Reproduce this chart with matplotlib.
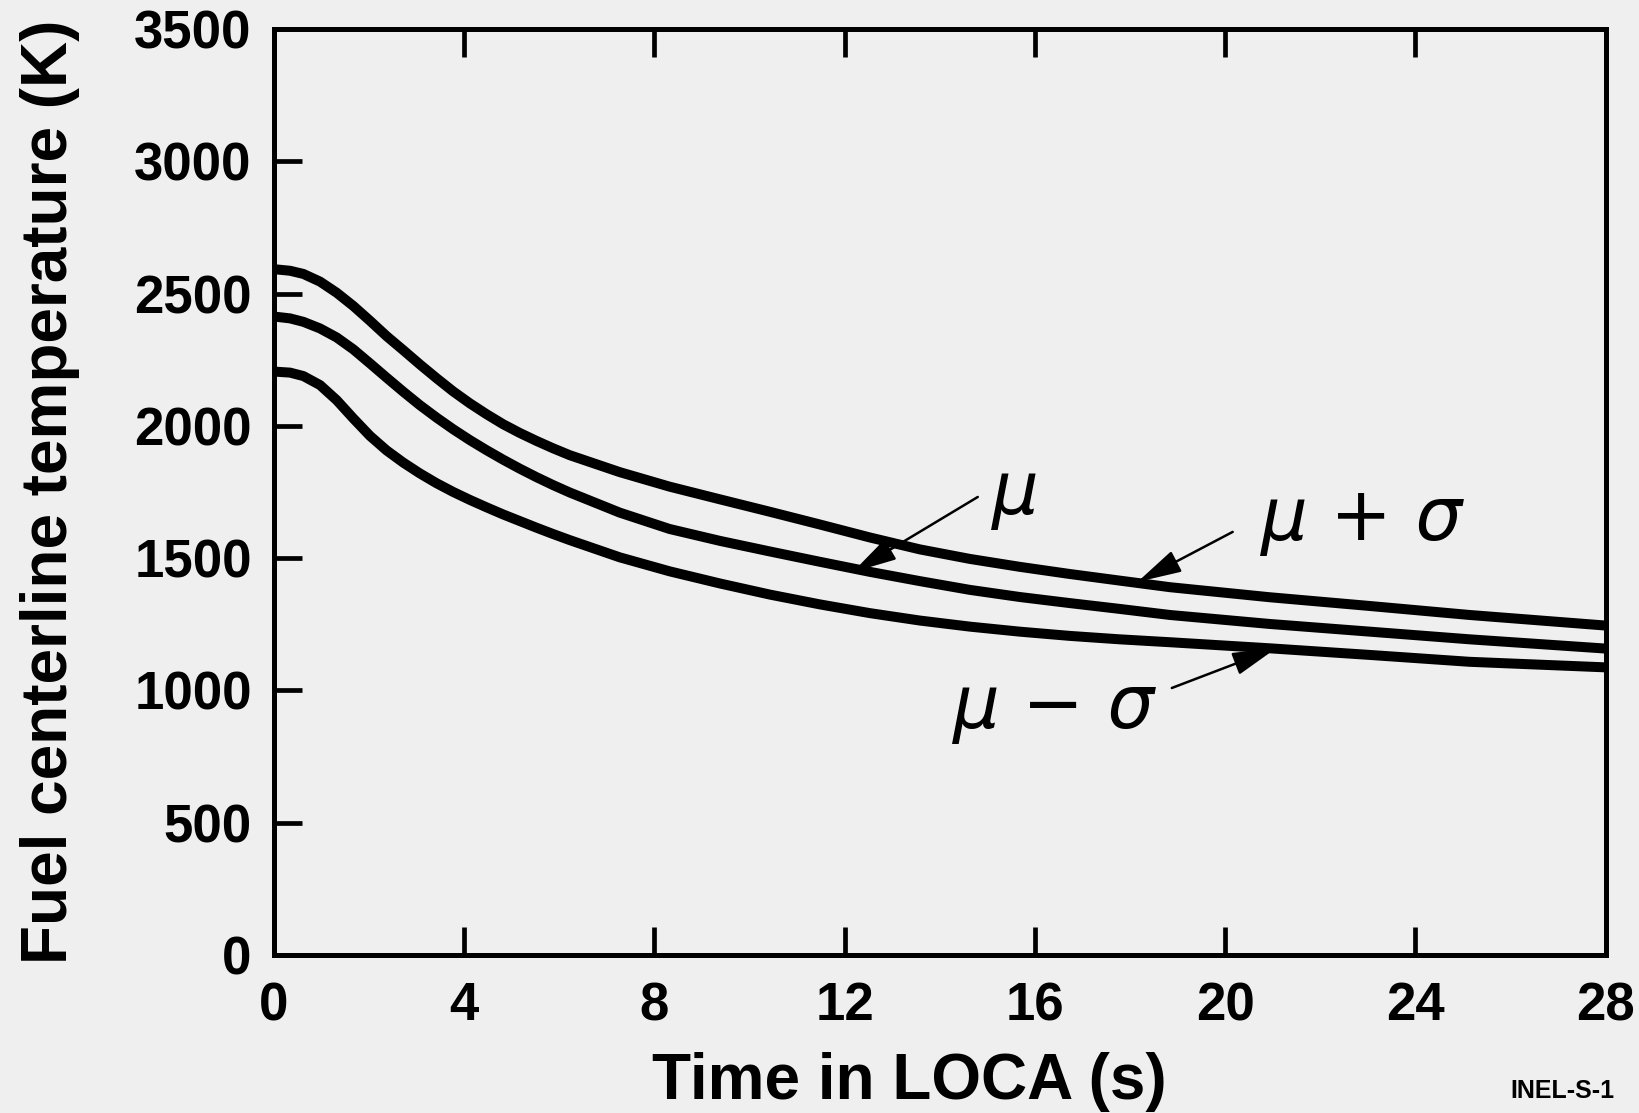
import matplotlib
matplotlib.use("Agg")
import matplotlib.pyplot as plt

# Data
time_s = [0.0, 0.34, 0.62, 0.97, 1.32, 1.67, 2.02, 2.37, 2.72, 3.07, 3.42, 3.77,
          4.12, 4.47, 4.82, 5.17, 5.52, 5.87, 6.22, 7.27, 8.32, 9.38, 10.43, 11.48,
          12.53, 13.58, 14.63, 15.68, 16.73, 17.78, 18.84, 20.94, 23.04, 25.14, 28.0]
mu_plus_sigma = [2592, 2586, 2574, 2545, 2503, 2453, 2397, 2339, 2286, 2232, 2180, 2130,
                 2085, 2044, 2006, 1973, 1943, 1915, 1889, 1825, 1770, 1722, 1675, 1627,
                 1578, 1533, 1497, 1467, 1440, 1415, 1390, 1352, 1319, 1285, 1245]
mu = [2413, 2406, 2393, 2368, 2334, 2289, 2236, 2182, 2129, 2078, 2031, 1987,
      1946, 1908, 1872, 1838, 1806, 1776, 1748, 1672, 1610, 1565, 1525, 1486,
      1448, 1413, 1380, 1353, 1330, 1308, 1285, 1251, 1222, 1193, 1158]
mu_minus_sigma = [2205, 2201, 2188, 2154, 2097, 2028, 1962, 1907, 1861, 1820, 1783, 1750,
                  1720, 1692, 1665, 1640, 1615, 1591, 1568, 1503, 1450, 1404, 1362, 1325,
                  1292, 1264, 1241, 1222, 1206, 1193, 1182, 1159, 1134, 1108, 1087]

x_ticks = [0, 4, 8, 12, 16, 20, 24, 28]
y_ticks = [0, 500, 1000, 1500, 2000, 2500, 3000, 3500]

bg = "#efefef"
plt.rcParams["font.family"] = ["Liberation Sans", "DejaVu Sans"]

fig = plt.figure(figsize=(16.4, 11.13), dpi=100, facecolor=bg)
ax = fig.add_axes([0.167, 0.142, 0.812, 0.832])
ax.set_facecolor(bg)

for series in (mu_plus_sigma, mu, mu_minus_sigma):
    ax.plot(time_s, series, color="black", lw=7.2, solid_capstyle="butt",
            solid_joinstyle="round", clip_on=True)

ax.set_xlim(0, 28)
ax.set_ylim(0, 3500)
ax.set_xticks(x_ticks)
ax.set_yticks(y_ticks)
ax.set_xticklabels([str(v) for v in x_ticks])
ax.set_yticklabels([str(v) for v in y_ticks])

for s in ax.spines.values():
    s.set_linewidth(3.6)

ax.tick_params(axis="both", direction="in", length=20, width=3.4,
               labelsize=38)
ax.tick_params(axis="x", top=True, pad=19)
ax.tick_params(axis="y", right=False, pad=16)
for lab in ax.get_xticklabels() + ax.get_yticklabels():
    lab.set_fontweight("bold")

ax.set_xlabel("Time in LOCA (s)", fontsize=46, fontweight="bold")
ax.set_ylabel("Fuel centerline temperature (K)", fontsize=46, fontweight="bold")
ax.xaxis.set_label_coords(0.477, -0.137)
ax.xaxis.label.set_verticalalignment("center")
ax.yaxis.set_label_coords(-0.168, 0.5)
ax.yaxis.label.set_verticalalignment("center")

arrow_kw = dict(arrowstyle="-|>,head_length=0.65,head_width=0.17",
                color="black", lw=1.8, mutation_scale=42,
                shrinkA=0, shrinkB=0)
sym_font = dict(fontsize=53, style="italic", family=["DejaVu Sans"], color="black")

ax.annotate("", xy=(12.17, 1447), xytext=(14.8, 1731), arrowprops=arrow_kw)
ax.text(15.6, 1742, "\u03bc", ha="center", va="center", **sym_font)

ax.annotate("", xy=(18.16, 1410), xytext=(20.16, 1599), arrowprops=arrow_kw)
ax.text(22.87, 1644, "\u03bc + \u03c3", ha="center", va="center", **sym_font)

ax.annotate("", xy=(21.08, 1160), xytext=(18.88, 1009), arrowprops=arrow_kw)
ax.text(16.4, 933, "\u03bc \u2212 \u03c3", ha="center", va="center", **sym_font)

fig.text(1510 / 1640, 1 - 1091 / 1113, "INEL-S-1", fontsize=18,
         fontweight="bold", ha="left", va="center")

fig.savefig("out.png", dpi=100, facecolor=bg)
